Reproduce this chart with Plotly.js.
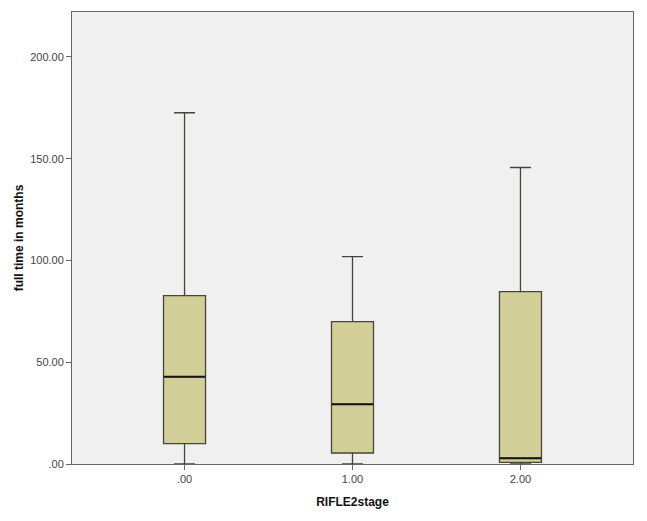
<!DOCTYPE html>
<html><head><meta charset="utf-8">
<script src="https://cdn.plot.ly/plotly-3.0.1.min.js"></script>
<style>body{margin:0;padding:0;background:#fff}#chart{width:647px;height:521px}</style>
</head><body><div id="chart"></div>
<script>
var categories = [".00", "1.00", "2.00"];
var lowerWhisker = [0, 0, 0];
var q1 = [10.0, 5.4, 0.8];
var median = [42.9, 29.3, 2.8];
var q3 = [82.7, 70.0, 84.7];
var upperWhisker = [172.6, 101.9, 145.7];
var yTickVals = [0, 50, 100, 150, 200];
var yTickText = [".00", "50.00", "100.00", "150.00", "200.00"];

var traces = [
  {
    type: "box",
    x: categories,
    q1: q1, median: median, q3: q3,
    lowerfence: lowerWhisker, upperfence: upperWhisker,
    fillcolor: "#d3cf99",
    line: {color: "#45453a", width: 1.3},
    width: 0.25,
    whiskerwidth: 0.5,
    boxpoints: false,
    hoverinfo: "skip",
    showlegend: false
  },
  {
    type: "scatter",
    mode: "markers",
    x: categories,
    y: median,
    marker: {symbol: "line-ew-open", size: 29.5, color: "#111", line: {color: "#111", width: 2}},
    hoverinfo: "skip",
    showlegend: false
  }
];

var layout = {
  width: 647, height: 521,
  margin: {l: 72, r: 14, t: 12, b: 57},
  paper_bgcolor: "#ffffff",
  plot_bgcolor: "#f0f0f0",
  font: {family: "Liberation Sans, Arial, sans-serif", color: "#444", size: 11},
  xaxis: {
    type: "category",
    range: [-0.67, 2.67],
    showline: true, mirror: true, linecolor: "#666", linewidth: 1,
    showgrid: false, zeroline: false,
    ticks: "outside", ticklen: 5, tickcolor: "#666",
    tickfont: {size: 11, color: "#444"},
    title: {text: "RIFLE2stage", font: {size: 12, color: "#111", family: "Liberation Sans, Arial, sans-serif", weight: "bold"}, standoff: 13}
  },
  yaxis: {
    range: [0, 222.1],
    tickvals: yTickVals, ticktext: yTickText,
    showline: true, mirror: true, linecolor: "#666", linewidth: 1,
    showgrid: false, zeroline: false,
    ticks: "outside", ticklen: 5, tickcolor: "#666",
    tickfont: {size: 11, color: "#444"},
    title: {text: "full time in months", font: {size: 12, color: "#111", family: "Liberation Sans, Arial, sans-serif", weight: "bold"}, standoff: 3}
  }
};
Plotly.newPlot("chart", traces, layout, {displayModeBar: false, staticPlot: true});
</script></body></html>
